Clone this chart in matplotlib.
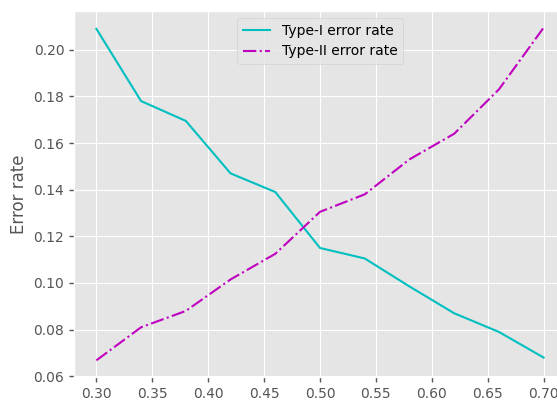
import matplotlib
matplotlib.use("Agg")
import matplotlib.pyplot as plt

plt.style.use("ggplot")

thresholds = [0.30, 0.34, 0.38, 0.42, 0.46, 0.50, 0.54, 0.58, 0.62, 0.66, 0.70]
type1 = [0.209, 0.178, 0.1695, 0.147, 0.139, 0.115, 0.1105, 0.0985, 0.087, 0.079, 0.068]
type2 = [0.0668, 0.081, 0.088, 0.1015, 0.1125, 0.1305, 0.138, 0.153, 0.164, 0.183, 0.2095]

fig = plt.figure(figsize=(5.57, 4.0), dpi=100)
ax = fig.add_axes([74/557, 1 - 377/400, (566-74)/557, (377-11)/400])
ax.plot(thresholds, type1, color="c", linestyle="-", label="Type-I error rate")
ax.plot(thresholds, type2, color="m", linestyle="-.", label="Type-II error rate")
ax.set_ylabel("Error rate")
ax.set_xticks([0.30, 0.35, 0.40, 0.45, 0.50, 0.55, 0.60, 0.65, 0.70])
ax.set_xticklabels(["0.30", "0.35", "0.40", "0.45", "0.50", "0.55", "0.60", "0.65", "0.70"])
ax.set_yticks([0.06, 0.08, 0.10, 0.12, 0.14, 0.16, 0.18, 0.20])
ax.set_yticklabels(["0.06", "0.08", "0.10", "0.12", "0.14", "0.16", "0.18", "0.20"])
ax.tick_params(which="major", direction="out", length=3.5, width=1, color="#555555")
ax.legend(loc="upper center")
fig.savefig("out.png", dpi=100)
